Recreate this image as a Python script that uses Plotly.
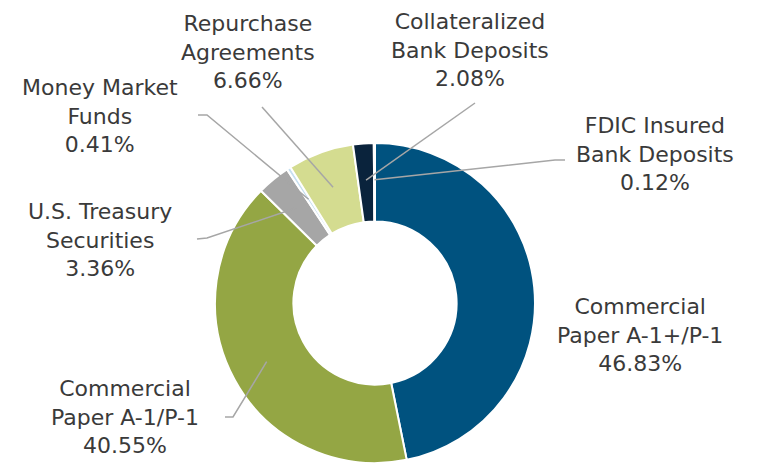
import math
import plotly.graph_objects as go

# ---- data ----
labels = ["Commercial Paper A-1+/P-1", "Commercial Paper A-1/P-1", "U.S. Treasury Securities",
          "Money Market Funds", "Repurchase Agreements", "Collateralized Bank Deposits",
          "FDIC Insured Bank Deposits"]
label_text = ["Commercial<br>Paper A-1+/P-1", "Commercial<br>Paper A-1/P-1", "U.S. Treasury<br>Securities",
              "Money Market<br>Funds", "Repurchase<br>Agreements", "Collateralized<br>Bank Deposits",
              "FDIC Insured<br>Bank Deposits"]
values = [46.83, 40.55, 3.36, 0.41, 6.66, 2.08, 0.12]

# ---- styles / layout ----
colors = ["#00527f", "#94a644", "#a6a6a6", "#c6dff0", "#d4dc90", "#0a233c", "#ffffff"]
OFF = 8                       # page body margin in the browser
W, H = 759 - OFF, 464 - OFF   # figure size
cx, cy, R = 375, 303, 160     # donut centre / radius in window pixels
# label block centres (window pixels) and leader line elbow/end (window pixels) per slice
label_pos = [(640, 335), (125, 417), (100, 240), (100, 116), (248, 52), (470, 50), (655, 154)]
leader = [None,
          [(233, 417), (225, 417)],
          [(207, 238), (197, 239)],
          [(207, 115), (198, 115)],
          [(262, 107)],
          [(475, 103)],
          [(555, 160), (565, 160)]]

def px(x):
    return (x - OFF) / W

def py(y):
    return 1 - (y - OFF) / H

fig = go.Figure(go.Pie(
    labels=labels, values=values, sort=False, direction="clockwise", rotation=0,
    hole=0.51, textinfo="none", hoverinfo="label+percent",
    marker=dict(colors=colors, line=dict(color="white", width=2)),
    domain=dict(x=[px(cx - R), px(cx + R)], y=[max(0, py(cy + R)), py(cy - R)]),
    showlegend=False,
))

total = sum(values)
cum = 0
shapes = []
annotations = []
for i, v in enumerate(values):
    mid = (cum + v / 2) / total
    cum += v
    ang = 2 * math.pi * mid
    ax = cx + 0.77 * R * math.sin(ang)
    ay = cy - 0.77 * R * math.cos(ang)
    if leader[i]:
        pts = [(ax, ay)] + leader[i]
        path = "M " + " L ".join(f"{px(x):.5f},{py(y):.5f}" for x, y in pts)
        shapes.append(dict(type="path", path=path, xref="paper", yref="paper",
                           line=dict(color="#a6a6a6", width=1.5)))
    lx, ly = label_pos[i]
    annotations.append(dict(
        x=px(lx), y=py(ly), xref="paper", yref="paper", showarrow=False,
        text=f"{label_text[i]}<br>{v:.2f}%", align="center",
        xanchor="center", yanchor="middle",
        font=dict(family="DejaVu Sans", size=22, color="#3a3a3a"),
    ))

fig.update_layout(
    width=W, height=H, margin=dict(l=0, r=0, t=0, b=0),
    paper_bgcolor="white", plot_bgcolor="white",
    shapes=shapes, annotations=annotations,
)
fig.write_html("out.html")
